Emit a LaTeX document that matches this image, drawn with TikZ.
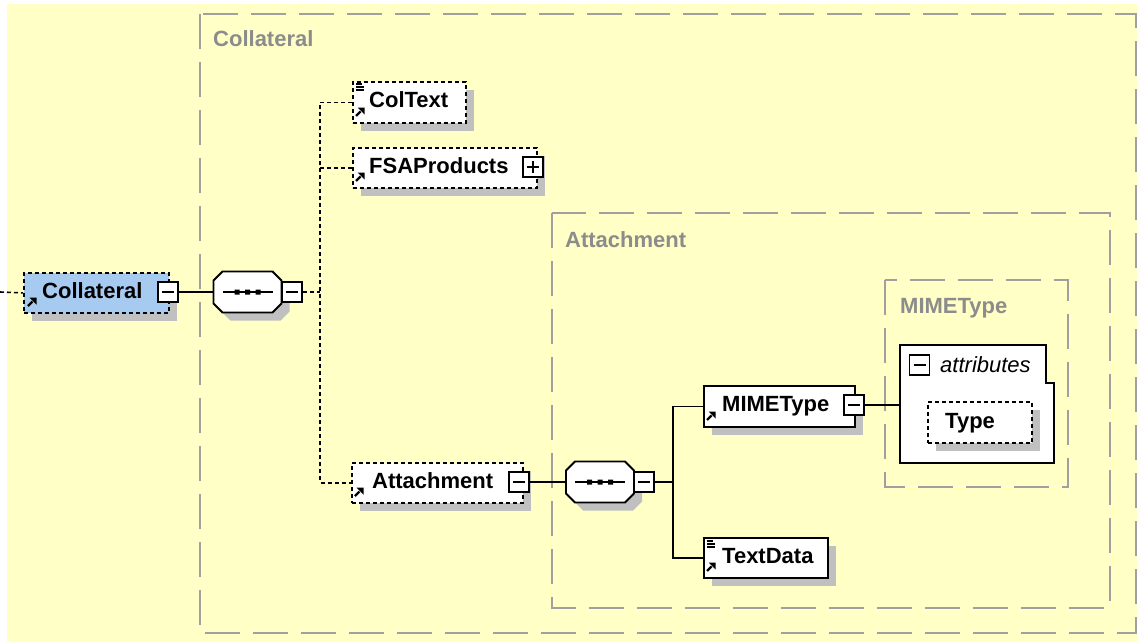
\documentclass[tikz,border=0pt]{standalone}
\usepackage{fontspec}
\setmainfont{Liberation Sans}
\usetikzlibrary{shadows}
\definecolor{bgyellow}{HTML}{FFFFC6}
\definecolor{nodeblue}{HTML}{A6CAF0}
\definecolor{shadowgray}{HTML}{C0C0C0}
\definecolor{grpgray}{HTML}{A0A0A0}
\definecolor{lblgray}{HTML}{8C8C8C}
\tikzset{
  grp/.style={draw=grpgray, line width=2pt, dash pattern=on 35pt off 13pt},
  grplbl/.style={anchor=base west, inner sep=0pt, text=lblgray, font=\fontsize{22}{26}\selectfont\bfseries},
  txt/.style={anchor=base west, inner sep=0pt, text=black, font=\fontsize{22}{26}\selectfont\bfseries},
  itxt/.style={anchor=base west, inner sep=0pt, text=black, font=\fontsize{22}{26}\selectfont\itshape},
  elem/.style={draw=black, fill=white, line width=1.8pt, inner sep=0pt, anchor=north west,
    general shadow={fill=shadowgray, draw=none, shadow xshift=8pt, shadow yshift=-8pt}},
  optelem/.style={elem, dash pattern=on 4pt off 3pt},
  seqanchor/.style={inner sep=0pt, minimum width=68pt, minimum height=41pt},
  minusbox/.style={draw=black, fill=white, line width=1.6pt, minimum size=20pt, inner sep=0pt,
    path picture={\draw[line width=1.5pt] ([xshift=4pt]path picture bounding box.west) -- ([xshift=-4pt]path picture bounding box.east);}},
  plusbox/.style={minusbox,
    path picture={\draw[line width=1.5pt] ([xshift=4pt]path picture bounding box.west) -- ([xshift=-4pt]path picture bounding box.east)
      ([yshift=-4pt]path picture bounding box.north) -- ([yshift=4pt]path picture bounding box.south);}},
  conn/.style={draw=black, line width=1.6pt},
  dconn/.style={conn, dash pattern=on 4pt off 3pt},
  linkarrow/.pic={
    \draw[line width=2.4pt] (1,-1) -- (5.5,-5.5);
    \fill (9.5,-9.5) -- (2.5,-9.5) -- (9.5,-2.5) -- cycle;},
  textlines/.pic={
    \draw[line width=1.3pt] (0,0) -- (6,0) (0,3) -- (8,3) (0,6) -- (8,6);},
  octagon/.pic={
    \fill[shadowgray] (-17,-12.5) -- (33,-12.5) -- (42,-3.5) -- (42,19.5) -- (33,28.5) -- (-17,28.5) -- (-26,19.5) -- (-26,-3.5) -- cycle;
    \draw[line width=1.8pt, fill=white] (-25,-20.5) -- (25,-20.5) -- (34,-11.5) -- (34,11.5) -- (25,20.5) -- (-25,20.5) -- (-34,11.5) -- (-34,-11.5) -- cycle;
    \draw[line width=1.6pt] (-25,0) -- (25,0);
    \fill (-13,-2.5) rectangle (-8,2.5) (-2.5,-2.5) rectangle (2.5,2.5) (8,-2.5) rectangle (13,2.5);}
}
\begin{document}
\begin{tikzpicture}[x=1pt,y=-1pt]
\useasboundingbox (0,0) rectangle (1137,642);
\fill[bgyellow] (7,4) rectangle (1137,642);

% groups
\draw[grp] (200,14) rectangle (1136,633);
\node[grplbl] (gcol) at (213,47) {Collateral};
\draw[grp] (552,213) rectangle (1110,608);
\node[grplbl] (gatt) at (565,247) {Attachment};
\draw[grp] (885,280) rectangle (1068,487);
\node[grplbl] (gmime) at (900,313) {MIMEType};

% root element
\node[optelem, fill=nodeblue, minimum width=145pt, minimum height=40pt] (root) at (23,272) {};
\node[txt] (rootlbl) at (42,298) {Collateral};
\pic at (27,307) {linkarrow};
\node[minusbox] (rootm) at (168,292) {};
\coordinate (leftend) at (0,292);
\draw[dconn] (leftend) -- (root.west);

% sequence 1
\pic at (247.5,292) {octagon};
\node[seqanchor] (seq1) at (247.5,292) {};
\node[minusbox] (seq1m) at (292,292) {};
\draw[conn] (rootm.east) -- (seq1.west);

% children of Collateral
\node[optelem, minimum width=113pt, minimum height=41pt] (coltext) at (352,81) {};
\node[txt] (coltextlbl) at (369,107.5) {ColText};
\pic at (356,84) {textlines};
\pic at (355,117) {linkarrow};

\node[optelem, minimum width=184pt, minimum height=40pt] (fsa) at (352,147) {};
\node[txt] (fsalbl) at (369,173) {FSAProducts};
\pic at (355,182) {linkarrow};
\node[plusbox] (fsap) at (533,167) {};

\node[optelem, minimum width=171pt, minimum height=40pt] (att) at (351,462) {};
\node[txt] (attlbl) at (372,488) {Attachment};
\pic at (354,497) {linkarrow};
\node[minusbox] (attm) at (519,482) {};

\coordinate (br1) at (320,292);
\draw[dconn] (seq1m.east) -- (br1);
\draw[dconn] (coltext.west) -- (coltext.west -| br1) -- (att.west -| br1) -- (att.west);
\draw[dconn] (fsa.west) -- (fsa.west -| br1);

% sequence 2
\pic at (600,482) {octagon};
\node[seqanchor] (seq2) at (600,482) {};
\node[minusbox] (seq2m) at (644,482) {};
\draw[conn] (attm.east) -- (seq2.west);

\node[elem, minimum width=151pt, minimum height=41pt] (mime) at (703,385) {};
\node[txt] (mimelbl) at (722,411.5) {MIMEType};
\pic at (706,421) {linkarrow};
\node[minusbox] (mimem) at (854,405) {};

\node[elem, minimum width=124pt, minimum height=40pt] (textdata) at (703,537) {};
\node[txt] (textdatalbl) at (722,563) {TextData};
\pic at (707,541) {textlines};
\pic at (706,572) {linkarrow};

\coordinate (br2) at (673,482);
\draw[conn] (seq2m.east) -- (br2);
\draw[conn] (mime.west) -- (mime.west -| br2) -- (textdata.west -| br2) -- (textdata.west);

% attributes
\draw[line width=2pt, fill=white] (900,345) -- (1046,345) -- (1046,383) -- (1054,383) -- (1054,463) -- (900,463) -- cycle;
\coordinate (attrin) at (900,405);
\draw[conn] (mimem.east) -- (attrin);
\node[minusbox] (attrm) at (919.5,365) {};
\node[itxt] (attrlbl) at (940,372) {attributes};
\node[optelem, minimum width=104pt, minimum height=41pt] (type) at (927,401) {};
\node[txt] (typelbl) at (945,428) {Type};
\end{tikzpicture}
\end{document}
